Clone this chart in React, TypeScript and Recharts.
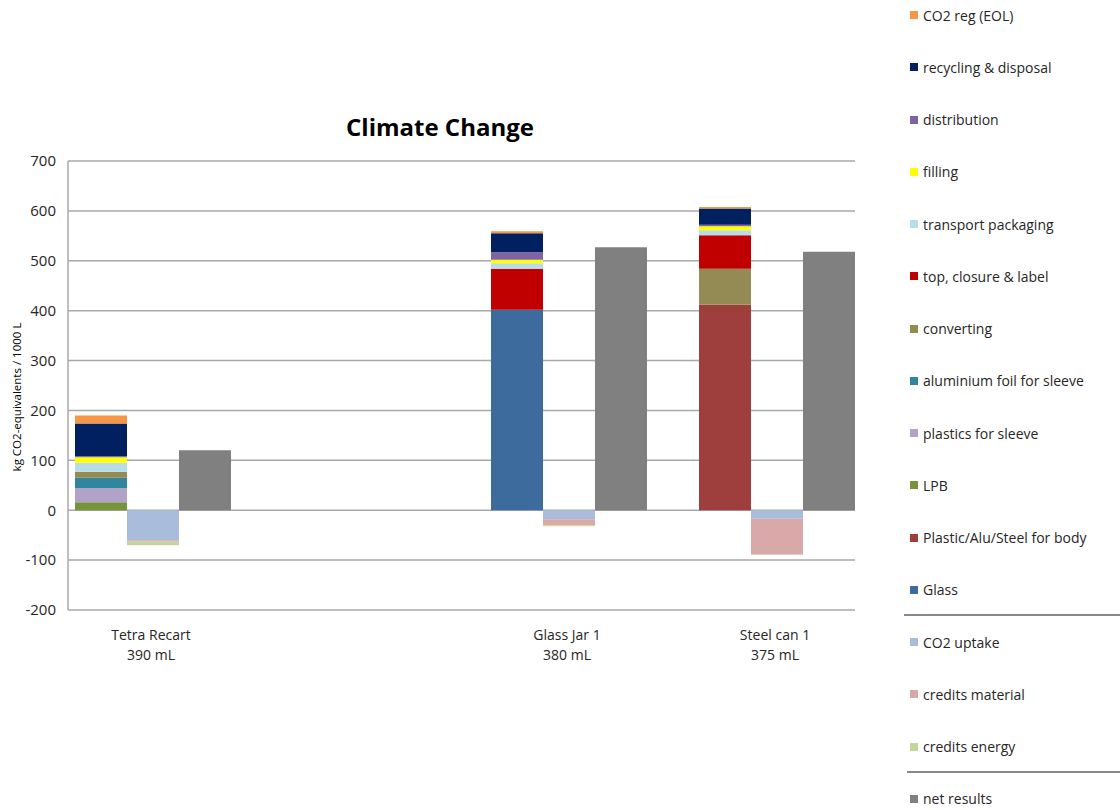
import React from "react"
import { BarChart, Bar, XAxis, YAxis, CartesianGrid } from "recharts"

// products on the category axis
const products = ["Tetra Recart", "Glass Jar 1", "Steel can 1"]
const volumes = ["390 mL", "380 mL", "375 mL"]

// burdens, kg CO2-eq / 1000 L (stack order bottom -> top)
const glass = [0, 402, 0]
const bodyMaterial = [0, 0, 412]
const lpb = [16, 0, 0]
const plasticsSleeve = [28, 0, 0]
const aluFoilSleeve = [21, 0, 0]
const converting = [12, 0, 72]
const topClosureLabel = [0, 82, 67]
const transportPackaging = [18, 11, 10]
const filling = [11, 7, 8]
const distribution = [2, 15, 3]
const recyclingDisposal = [66, 38, 33]
const co2RegEol = [16, 4, 3]

// credits
const co2Uptake = [-60, -18, -17]
const creditsMaterial = [-3, -12, -72]
const creditsEnergy = [-7, -2, -1]

// net
const netResults = [120, 527, 518]

const yTicks = [-200, -100, 0, 100, 200, 300, 400, 500, 600, 700]

const burdenSeries = [
  { key: "glass", name: "Glass", color: "#3e6b9e", values: glass },
  { key: "body", name: "Plastic/Alu/Steel for body", color: "#9e3f3e", values: bodyMaterial },
  { key: "lpb", name: "LPB", color: "#77933c", values: lpb },
  { key: "sleevePlastics", name: "plastics for sleeve", color: "#b3a2c7", values: plasticsSleeve },
  { key: "sleeveAlu", name: "aluminium foil for sleeve", color: "#31859c", values: aluFoilSleeve },
  { key: "converting", name: "converting", color: "#948a54", values: converting },
  { key: "closure", name: "top, closure & label", color: "#c00000", values: topClosureLabel },
  { key: "transport", name: "transport packaging", color: "#b7dee8", values: transportPackaging },
  { key: "filling", name: "filling", color: "#ffff00", values: filling },
  { key: "distribution", name: "distribution", color: "#8064a2", values: distribution },
  { key: "recycling", name: "recycling & disposal", color: "#002060", values: recyclingDisposal },
  { key: "co2reg", name: "CO2 reg (EOL)", color: "#f79646", values: co2RegEol },
]

const creditSeries = [
  { key: "uptake", name: "CO2 uptake", color: "#a9bcdb", values: co2Uptake },
  { key: "creditsMaterial", name: "credits material", color: "#d9a8a8", values: creditsMaterial },
  { key: "creditsEnergy", name: "credits energy", color: "#c3d69b", values: creditsEnergy },
]

const netSeries = { key: "net", name: "net results", color: "#808080", values: netResults }

// slot layout: each product gets burden / credit / net bar side by side
const SLOT_COUNT = 15
const productSlots = [0, 8, 12]

const rows: Record<string, number | string>[] = Array.from({ length: SLOT_COUNT }, (_, i) => ({ slot: i }))
products.forEach((p, k) => {
  const base = productSlots[k]
  burdenSeries.forEach((s) => (rows[base][s.key] = s.values[k]))
  creditSeries.forEach((s) => (rows[base + 1][s.key] = s.values[k]))
  rows[base + 2][netSeries.key] = netSeries.values[k]
  rows[base + 1].label = p
  rows[base + 1].volume = volumes[k]
})

const FONT = "'Open Sans', sans-serif"
const TEXT = "#262626"

const SlotTick = (props: any) => {
  const { x, y, payload } = props
  const row = rows[payload.index]
  if (!row || !row.label) return null
  return (
    <g transform={`translate(${x},${y})`}>
      <text x={-2} y={22} textAnchor="middle" fontSize={14} fill={TEXT} fontFamily={FONT}>
        {row.label}
      </text>
      <text x={-2} y={42} textAnchor="middle" fontSize={14} fill={TEXT} fontFamily={FONT}>
        {row.volume}
      </text>
    </g>
  )
}

const legendItems = [
  ...[...burdenSeries].reverse(),
  ...creditSeries,
  netSeries,
]

function LegendBox() {
  return (
    <div style={{ position: "absolute", left: 0, top: 0, width: 1120, height: 810, pointerEvents: "none" }}>
      {legendItems.map((s, i) => {
        const cy = 15 + i * 52.25
        return (
          <div
            key={s.key}
            style={{
              position: "absolute",
              left: 910,
              top: cy - 10,
              height: 20,
              display: "flex",
              alignItems: "center",
              fontFamily: FONT,
              fontSize: 14,
              color: TEXT,
              whiteSpace: "nowrap",
            }}
          >
            <span style={{ width: 8, height: 8, background: s.color, marginRight: 5, display: "inline-block" }} />
            {s.name}
          </div>
        )
      })}
      <div style={{ position: "absolute", left: 904, top: 614, width: 216, height: 1.5, background: "#888" }} />
      <div style={{ position: "absolute", left: 907, top: 771, width: 213, height: 1.5, background: "#888" }} />
    </div>
  )
}

export default function App() {
  return (
    <div style={{ position: "absolute", left: 0, top: 0, width: 1120, height: 810, background: "#fff" }}>
      <div
        style={{
          position: "absolute",
          left: 290,
          top: 110,
          width: 300,
          textAlign: "center",
          fontFamily: FONT,
          fontWeight: 700,
          fontSize: 24,
          color: "#000",
        }}
      >
        Climate Change
      </div>
      <BarChart
        width={1120}
        height={810}
        data={rows}
        stackOffset="sign"
        barCategoryGap={0}
        barGap={0}
        margin={{ top: 161, right: 265, bottom: 140, left: 0 }}
      >
        <CartesianGrid vertical={false} stroke="#a8a8a8" strokeWidth={1.5} />
        <XAxis
          dataKey="slot"
          type="category"
          axisLine={false}
          tickLine={false}
          interval={0}
          padding={{ left: 7, right: 0 }}
          height={60}
          tick={<SlotTick />}
        />
        <YAxis
          type="number"
          domain={[-200, 700]}
          ticks={yTicks}
          interval={0}
          width={68}
          tickLine={false}
          axisLine={{ stroke: "#a8a8a8", strokeWidth: 1.5 }}
          tick={{ fontSize: 15, fill: TEXT, fontFamily: FONT }}
          tickMargin={6}
          label={{
            content: () => (
              <text
                x={18}
                y={397}
                transform="rotate(-90 18 397)"
                textAnchor="middle"
                dominantBaseline="middle"
                fontSize={11.5}
                fill="#000"
                fontFamily={FONT}
              >
                kg CO2-equivalents / 1000 L
              </text>
            ),
          }}
        />
        {burdenSeries.map((s) => (
          <Bar key={s.key} dataKey={s.key} name={s.name} stackId="a" fill={s.color} isAnimationActive={false} />
        ))}
        {creditSeries.map((s) => (
          <Bar key={s.key} dataKey={s.key} name={s.name} stackId="a" fill={s.color} isAnimationActive={false} />
        ))}
        <Bar dataKey={netSeries.key} name={netSeries.name} stackId="a" fill={netSeries.color} isAnimationActive={false} />
      </BarChart>
      <LegendBox />
    </div>
  )
}
